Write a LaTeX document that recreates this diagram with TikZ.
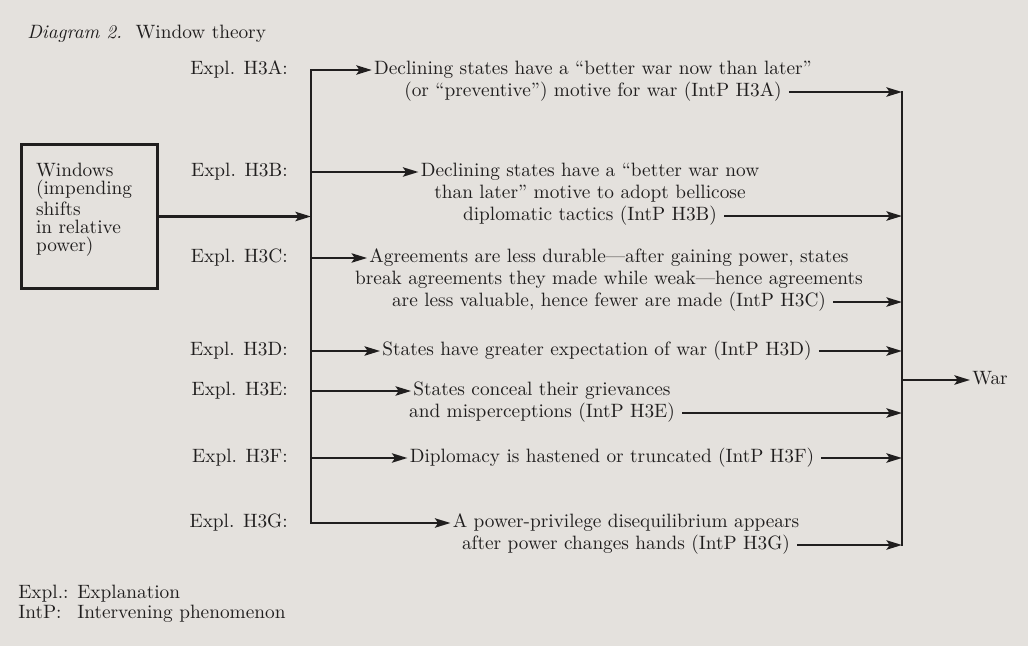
\documentclass[tikz,border=0pt]{standalone}
\usepackage{tikz}
\usetikzlibrary{arrows.meta, positioning}
\definecolor{paper}{RGB}{228,225,221}
\definecolor{ink}{RGB}{32,30,30}
\tikzset{
  wbox/.style={draw=ink, line width=1.6pt, anchor=north west, minimum width=2.48cm, minimum height=2.62cm},
  boxtxt/.style={anchor=north west, align=left, inner sep=1pt, text=ink, font=\fontsize{10}{9.4}\selectfont},
  ln/.style={inner sep=1pt, text height=7pt, text depth=2pt, text=ink},
  expl/.style={ln, anchor=east},
  line/.style={draw=ink, line width=1.3pt, -{Stealth[length=8pt, width=4.8pt, inset=1.6pt]}},
  outline/.style={line, shorten <=2.5pt},
  bar/.style={draw=ink, line width=1.3pt, line cap=rect}
}
\begin{document}
\begin{tikzpicture}[x=0.01821cm, y=-0.01821cm]
    \fill[paper] (0,0) rectangle (1028,646);
    \useasboundingbox (0,0) rectangle (1028,646);

    \node[ln, anchor=west] (title) at (25,34) {\textit{Diagram 2.}\hspace{0.7em}Window theory};

    \node[wbox] (win) at (20,143) {};
    \node[boxtxt, below right=0.33cm and 0.25cm of win.north west] (wintxt) {Windows\\(impending\\shifts\\in relative\\power)};

    \coordinate (lbus) at (311,0);
    \coordinate (rbus) at (902,0);

    \node[expl] (ea) at (290,70) {Expl. H3A:};
    \node[expl] (eb) at (290,172) {Expl. H3B:};
    \node[expl] (ec) at (290,258) {Expl. H3C:};
    \node[expl] (ed) at (290,351) {Expl. H3D:};
    \node[expl] (ee) at (290,391) {Expl. H3E:};
    \node[expl] (ef) at (290,458) {Expl. H3F:};
    \node[expl] (eg) at (290,523) {Expl. H3G:};

    \node[ln] (a1) at (593,70) {Declining states have a “better war now than later”};
    \node[ln, below=0pt of a1] (a2) {(or “preventive”) motive for war (IntP H3A)};

    \node[ln] (b1) at (590,172) {Declining states have a “better war now};
    \node[ln, below=0pt of b1] (b2) {than later” motive to adopt bellicose};
    \node[ln, below=0pt of b2] (b3) {diplomatic tactics (IntP H3B)};

    \node[ln] (c1) at (609,258) {Agreements are less durable—after gaining power, states};
    \node[ln, below=0pt of c1] (c2) {break agreements they made while weak—hence agreements};
    \node[ln, below=0pt of c2] (c3) {are less valuable, hence fewer are made (IntP H3C)};

    \node[ln] (d1) at (597,351) {States have greater expectation of war (IntP H3D)};

    \node[ln] (e1) at (542,391) {States conceal their grievances};
    \node[ln, below=0pt of e1] (e2) {and misperceptions (IntP H3E)};

    \node[ln] (f1) at (612,458) {Diplomacy is hastened or truncated (IntP H3F)};

    \node[ln] (g1) at (626,523) {A power-privilege disequilibrium appears};
    \node[ln, below=0pt of g1] (g2) {after power changes hands (IntP H3G)};

    \node[ln, anchor=west] (war) at (970,380) {War};

    \node[ln, anchor=west] (k1) at (16,594) {Expl.:};
    \node[ln, anchor=west] (k1t) at (75,594) {Explanation};
    \node[ln, anchor=west] (k2) at (16,614) {IntP:};
    \node[ln, anchor=west] (k2t) at (75,614) {Intervening phenomenon};

    \draw[line] (win.east) -- (win.east -| lbus);

    \draw[bar] (a1.west -| lbus) -- (g1.west -| lbus);
    \draw[line] (a1.west -| lbus) -- (a1.west);
    \draw[line] (b1.west -| lbus) -- (b1.west);
    \draw[line] (c1.west -| lbus) -- (c1.west);
    \draw[line] (d1.west -| lbus) -- (d1.west);
    \draw[line] (e1.west -| lbus) -- (e1.west);
    \draw[line] (f1.west -| lbus) -- (f1.west);
    \draw[line] (g1.west -| lbus) -- (g1.west);

    \draw[bar] (a2.east -| rbus) -- (g2.east -| rbus);
    \draw[outline] (a2.east) -- (a2.east -| rbus);
    \draw[outline] (b3.east) -- (b3.east -| rbus);
    \draw[outline] (c3.east) -- (c3.east -| rbus);
    \draw[outline] (d1.east) -- (d1.east -| rbus);
    \draw[outline] (e2.east) -- (e2.east -| rbus);
    \draw[outline] (f1.east) -- (f1.east -| rbus);
    \draw[outline] (g2.east) -- (g2.east -| rbus);

    \draw[line] (war.west -| rbus) -- (war.west);
\end{tikzpicture}
\end{document}
